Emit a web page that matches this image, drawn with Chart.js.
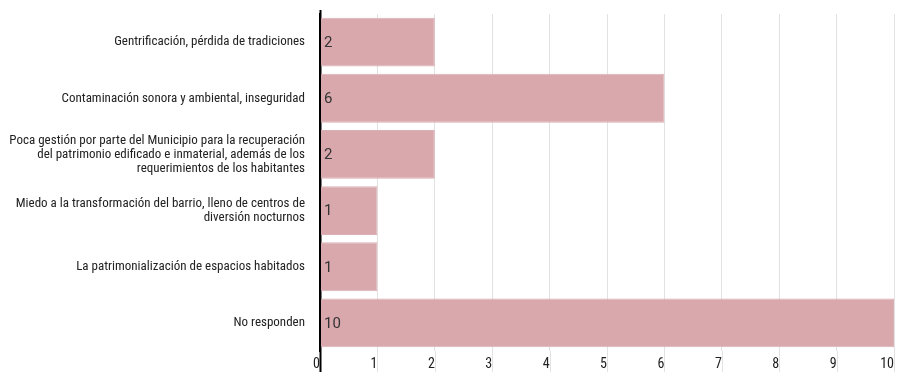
<!DOCTYPE html>
<html>
<head>
<meta charset="utf-8">
<script src="https://cdn.jsdelivr.net/npm/chart.js@4/dist/chart.umd.min.js"></script>
<style>
  html, body { margin: 0; padding: 0; background: #fff; }
  #wrap { width: 899px; height: 372px; }
</style>
</head>
<body>
<div id="wrap"><canvas id="respuestasChart"></canvas></div>
<script>
// Datos de la figura
const categorias = [
    'Gentrificación, pérdida de tradiciones',
    'Contaminación sonora y ambiental, inseguridad',
    ['Poca gestión por parte del Municipio para la recuperación', 'del patrimonio edificado e inmaterial, además de los', 'requerimientos de los habitantes'],
    ['Miedo a la transformación del barrio, lleno de centros de', 'diversión nocturnos'],
    'La patrimonialización de espacios habitados',
    'No responden'
];
const respuestas = [2, 6, 2, 1, 1, 10];
const ejeMin = 0;
const ejeMax = 10;

const fuenteEstrecha = '"Roboto Condensed", "Roboto", sans-serif';

// Etiquetas de valor dentro de cada barra
const valoresPlugin = {
    id: 'valores',
    afterDatasetsDraw(chart) {
        const ctx = chart.ctx;
        const meta = chart.getDatasetMeta(0);
        ctx.save();
        ctx.font = '15px "Roboto", sans-serif';
        ctx.fillStyle = '#333';
        ctx.textAlign = 'left';
        ctx.textBaseline = 'middle';
        meta.data.forEach((bar, i) => {
            ctx.fillText(String(respuestas[i]), bar.base + 3, bar.y + 1);
        });
        ctx.restore();
    }
};

// Prolonga las líneas de la cuadrícula hasta el borde inferior
const lineasPlugin = {
    id: 'lineas',
    beforeDatasetsDraw(chart) {
        const ctx = chart.ctx;
        const x = chart.scales.x;
        const area = chart.chartArea;
        ctx.save();
        x.ticks.forEach((t, i) => {
            const px = Math.round(x.getPixelForValue(t.value)) + 0.5;
            ctx.strokeStyle = i === 0 ? '#000' : '#e2e2e2';
            ctx.lineWidth = i === 0 ? 2 : 1;
            ctx.beginPath();
            // el eje vertical sube un poco por encima del área
            ctx.moveTo(px, i === 0 ? area.top - 4 : area.bottom);
            ctx.lineTo(px, chart.height);
            ctx.stroke();
        });
        ctx.restore();
    }
};

const ctx = document.getElementById('respuestasChart').getContext('2d');
const respuestasChart = new Chart(ctx, {
    type: 'bar',
    data: {
        labels: categorias,
        datasets: [{
            data: respuestas,
            backgroundColor: '#d9a8ad',
            borderColor: '#dbb0b5',
            borderWidth: 1,
            barPercentage: 0.87,
            categoryPercentage: 1
        }]
    },
    options: {
        indexAxis: 'y',
        responsive: true,
        maintainAspectRatio: false,
        animation: false,
        layout: { padding: { top: 13, right: 4, left: 0, bottom: 0 } },
        plugins: {
            legend: { display: false },
            tooltip: { enabled: false }
        },
        scales: {
            x: {
                min: ejeMin,
                max: ejeMax,
                afterFit: (scale) => { scale.height = 21; },
                grid: {
                    color: (c) => c.index === 0 ? '#000' : '#e2e2e2',
                    lineWidth: (c) => c.index === 0 ? 2 : 1,
                    drawTicks: false
                },
                border: { display: false },
                ticks: {
                    stepSize: 1,
                    align: 'end',
                    padding: 5,
                    color: '#222',
                    font: { family: fuenteEstrecha, size: 14 }
                }
            },
            y: {
                afterFit: (scale) => { scale.width = 320; },
                grid: { display: false },
                border: { display: true, color: '#000', width: 2 },
                ticks: {
                    padding: 7,
                    color: '#222',
                    font: { family: fuenteEstrecha, size: 13, lineHeight: 1.08 }
                }
            }
        }
    },
    plugins: [lineasPlugin, valoresPlugin]
});
</script>
</body>
</html>
